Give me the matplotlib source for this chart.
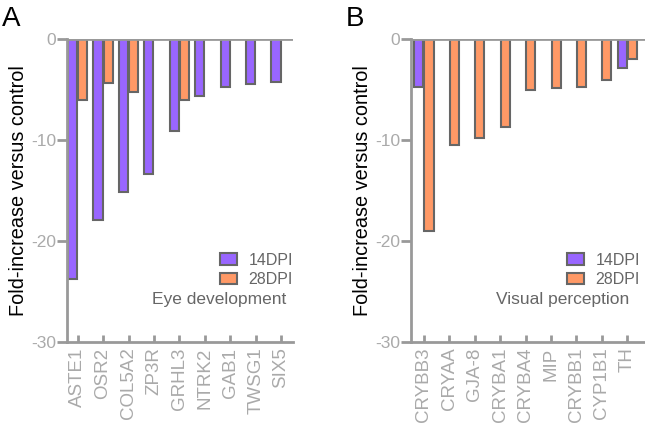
import numpy as np
import matplotlib
matplotlib.use("Agg")
import matplotlib.pyplot as plt

plt.rcParams['font.family'] = ['Liberation Sans', 'DejaVu Sans']

genes_a = ["ASTE1", "OSR2", "COL5A2", "ZP3R", "GRHL3", "NTRK2", "GAB1", "TWSG1", "SIX5"]
a_14dpi = [-23.8, -17.9, -15.1, -13.4, -9.1, -5.6, -4.8, -4.5, -4.3]
a_28dpi = [-6.0, -4.4, -5.2, np.nan, -6.0, np.nan, np.nan, np.nan, np.nan]

genes_b = ["CRYBB3", "CRYAA", "GJA-8", "CRYBA1", "CRYBA4", "MIP", "CRYBB1", "CYP1B1", "TH"]
b_14dpi = [-4.8, np.nan, np.nan, np.nan, np.nan, np.nan, np.nan, np.nan, -2.9]
b_28dpi = [-19.0, -10.5, -9.8, -8.7, -5.0, -4.9, -4.8, -4.1, -2.0]

series_names = ["14DPI", "28DPI"]
yticks = [0, -10, -20, -30]

PURPLE = "#9966FF"
ORANGE = "#FF9966"
EDGE = "#666666"
AXC = "#999999"
TICKC = "#AAAAAA"

fig = plt.figure(figsize=(6.45, 4.24), dpi=100)
axA = fig.add_axes([67/645, 82/424, 226/645, 303/424])
axB = fig.add_axes([411/645, 82/424, 234/645, 303/424])


def draw(ax, genes, v14, v28, note, xlim, leg_x, note_x):
    x = np.arange(len(genes))
    w = 0.36
    ax.bar(x - 0.2, v14, w, color=PURPLE, edgecolor=EDGE, linewidth=1.5, label=series_names[0], zorder=2)
    ax.bar(x + 0.2, v28, w, color=ORANGE, edgecolor=EDGE, linewidth=1.5, label=series_names[1], zorder=2)
    ax.axhline(0, color=AXC, lw=2, zorder=3)
    ax.set_ylim(-30, 0)
    ax.set_xlim(*xlim)
    ax.set_yticks(yticks)
    ax.set_yticklabels([str(t) for t in yticks], color=TICKC, fontsize=12.5)
    ax.set_xticks(x)
    ax.set_xticklabels(genes, rotation=90, color=TICKC, fontsize=13.5)
    ax.tick_params(axis='y', direction='out', length=7, width=2, color=AXC, pad=1)
    ax.tick_params(axis='x', direction='in', length=5, width=2, color=AXC, pad=4)
    for s in ['top', 'right']:
        ax.spines[s].set_visible(False)
    for s in ['left', 'bottom']:
        ax.spines[s].set_color(AXC)
        ax.spines[s].set_linewidth(2)
    ax.set_ylabel("Fold-increase versus control", fontsize=14.3, color='black', labelpad=2)
    leg = ax.legend(loc='lower right', bbox_to_anchor=(leg_x, 0.18), frameon=False,
                    fontsize=11.5, handlelength=1.1, handleheight=0.7, handletextpad=0.7,
                    labelspacing=0.3, borderpad=0, borderaxespad=0)
    for t in leg.get_texts():
        t.set_color("#666666")
    ax.text(note_x, 0.139, note, transform=ax.transAxes, ha='right', va='center',
            fontsize=12.5, color="#666666")


draw(axA, genes_a, a_14dpi, a_28dpi, "Eye development", (-0.42, 8.47), 1.0, 0.969)
draw(axB, genes_b, b_14dpi, b_28dpi, "Visual perception", (-0.51, 8.7), 0.979, 0.932)

fig.text(2/645, 1 - 25.5/424, "A", fontsize=20, color='black', ha='left', va='baseline')
fig.text(346/645, 1 - 26/424, "B", fontsize=20, color='black', ha='left', va='baseline')

fig.savefig("out.png", dpi=100)
